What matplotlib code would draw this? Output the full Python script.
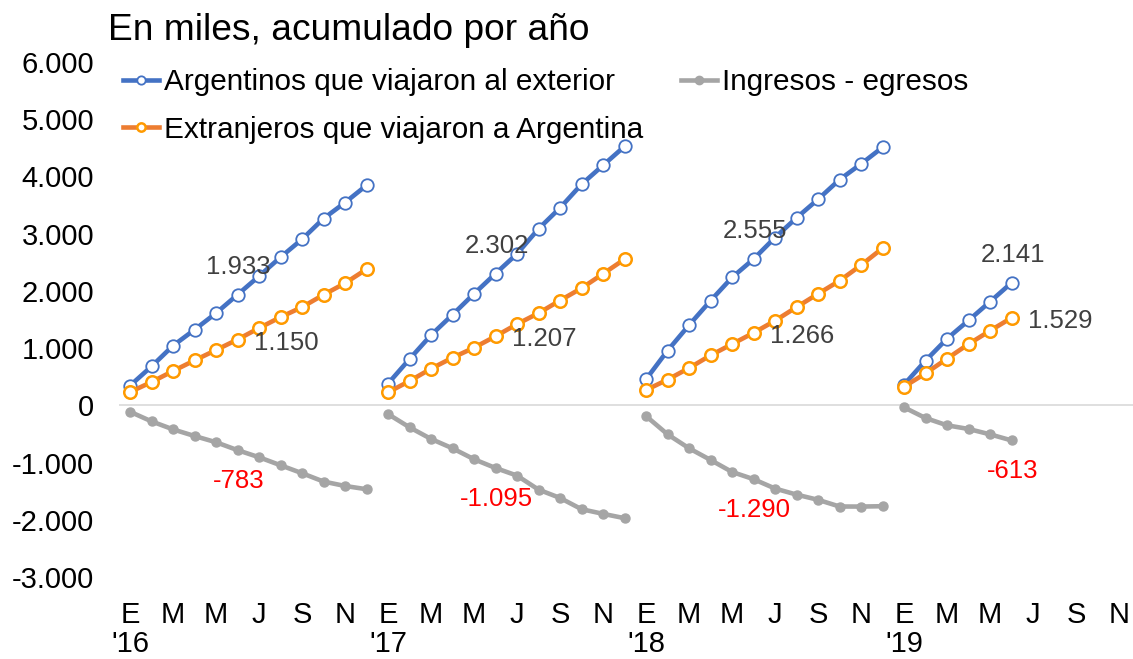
import numpy as np
import matplotlib
matplotlib.use("Agg")
import matplotlib.pyplot as plt
import matplotlib.transforms as mtransforms

plt.rcParams['font.family'] = ['Liberation Sans', 'DejaVu Sans']

# ---------------- data (thousands, cumulative per year) ----------------
years = ["'16", "'17", "'18", "'19"]
months = ['E', 'F', 'M', 'A', 'M', 'J', 'J', 'A', 'S', 'O', 'N', 'D']
nan = np.nan

argentinos = [
    344, 680, 1042, 1321, 1611, 1933, 2257, 2588, 2902, 3264, 3543, 3845,
    379, 808, 1227, 1583, 1949, 2302, 2647, 3084, 3450, 3862, 4194, 4525,
    454, 955, 1401, 1827, 2234, 2555, 2932, 3276, 3600, 3944, 4218, 4508,
    361, 780, 1164, 1483, 1810, 2141, nan, nan, nan, nan, nan, nan,
]
extranjeros = [
    232, 407, 599, 785, 966, 1150, 1350, 1541, 1716, 1932, 2134, 2379,
    227, 424, 640, 832, 1007, 1207, 1419, 1611, 1832, 2047, 2298, 2553,
    267, 449, 651, 873, 1070, 1266, 1478, 1716, 1949, 2176, 2449, 2745,
    326, 558, 815, 1070, 1303, 1529, nan, nan, nan, nan, nan, nan,
]
saldo = [
    -112, -280, -420, -536, -645, -783, -907, -1047, -1186, -1332, -1409, -1466,
    -152, -384, -587, -751, -942, -1095, -1228, -1473, -1618, -1815, -1896, -1972,
    -187, -506, -750, -954, -1164, -1290, -1454, -1560, -1651, -1768, -1769, -1763,
    -35, -222, -349, -413, -507, -613, nan, nan, nan, nan, nan, nan,
]
label_month = 5  # June values are labelled

series_names = ['Argentinos que viajaron al exterior',
                'Extranjeros que viajaron a Argentina',
                'Ingresos - egresos']
yticks = [-3000, -2000, -1000, 0, 1000, 2000, 3000, 4000, 5000, 6000]
ytick_labels = ['-3.000', '-2.000', '-1.000', '0', '1.000', '2.000',
                '3.000', '4.000', '5.000', '6.000']

# ---------------- figure ----------------
W, H = 1133, 659
fig = plt.figure(figsize=(W / 100, H / 100), dpi=100)
ax = fig.add_axes([119.25 / W, (H - 577) / H, 1 - 119.25 / W, (577 - 62) / H])

blue = '#4472C4'
orange_line = '#ED7D31'
orange_mk = '#FF9A00'
gray = '#A5A5A5'

arg = np.array(argentinos, dtype=float)
ext = np.array(extranjeros, dtype=float)
sal = np.array(saldo, dtype=float)
n = len(arg)
x = np.arange(n)

ax.axhline(0, color='#D9D9D9', lw=1.2, zorder=1)

for k in range(len(years)):
    sl = slice(12 * k, 12 * (k + 1))
    ax.plot(x[sl], arg[sl], color=blue, lw=3.3, marker='o', ms=9,
            mfc='white', mec=blue, mew=1.3, zorder=3,
            label=series_names[0] if k == 0 else None)
    ax.plot(x[sl], ext[sl], color=orange_line, lw=3.3, marker='o', ms=9,
            mfc='white', mec=orange_mk, mew=1.8, zorder=3,
            label=series_names[1] if k == 0 else None)
    ax.plot(x[sl], sal[sl], color=gray, lw=3.3, marker='o', ms=6.5,
            mfc=gray, mec=gray, zorder=3,
            label=series_names[2] if k == 0 else None)

    i = 12 * k + label_month
    ax.annotate(f"{int(arg[i]):,}".replace(',', '.'), (x[i], arg[i]),
                xytext=(1, 28), textcoords='offset pixels', ha='center',
                va='center', fontsize=18.5, color='#404040', zorder=4)
    ax.annotate(f"{int(ext[i]):,}".replace(',', '.'), (x[i], ext[i]),
                xytext=(49, -3), textcoords='offset pixels', ha='center',
                va='center', fontsize=18.5, color='#404040', zorder=4)
    ax.annotate(f"{int(sal[i]):,}".replace(',', '.'), (x[i], sal[i]),
                xytext=(1, -31), textcoords='offset pixels', ha='center',
                va='center', fontsize=18.5, color='#FF0000', zorder=4)

ax.set_xlim(-0.5, (W - 130) / 21.5)
ax.set_ylim(-3000, 6000)
ax.set_yticks(yticks)
ax.set_yticklabels(ytick_labels)

tick_pos = list(range(0, 48, 2))
ax.set_xticks(tick_pos)
ax.set_xticklabels([months[t % 12] for t in tick_pos])

# year labels under each January
trans = mtransforms.blended_transform_factory(ax.transData, fig.transFigure)
for k, yl in enumerate(years):
    ax.text(12 * k, 1.5 / H, yl, transform=trans, ha='center', va='bottom',
            fontsize=21, color='black', clip_on=False)

ax.tick_params(axis='both', length=0, labelsize=21, colors='black')
ax.tick_params(axis='y', pad=18)
ax.tick_params(axis='x', pad=17)
for s in ax.spines.values():
    s.set_visible(False)
ax.patch.set_alpha(0)

fig.text(108 / W, 1 - 30 / H, 'En miles, acumulado por año', fontsize=26.7,
         ha='left', va='center', color='black')

handles, labels = ax.get_legend_handles_labels()
leg = fig.legend([handles[0], handles[1], handles[2]],
                 [labels[0], labels[1], labels[2]],
                 ncol=2, loc='upper left',
                 bbox_to_anchor=(123 / W, 1 - 68 / H),
                 frameon=False, fontsize=21.4, handlelength=1.22,
                 handletextpad=0.17, columnspacing=1.25, labelspacing=0.66,
                 borderaxespad=0, borderpad=0)
for h in leg.legend_handles:
    h.set_markersize(6)

fig.savefig('out.png', dpi=100)
